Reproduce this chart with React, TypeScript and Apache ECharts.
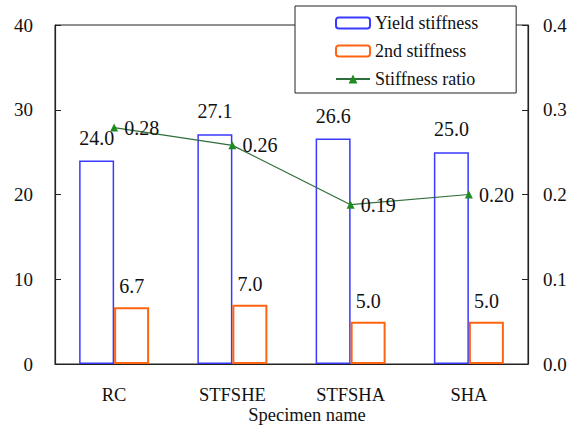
import React, { useEffect, useRef } from "react";
import * as echarts from "echarts";

const categories = ["RC", "STFSHE", "STFSHA", "SHA"];
const yieldStiffness = [24.0, 27.1, 26.6, 25.0];
const secondStiffness = [6.7, 7.0, 5.0, 5.0];
const stiffnessRatio = [0.279, 0.258, 0.188, 0.2];
const leftTicks = [0, 40, 10];
const rightTicks = [0, 0.4, 0.1];

const FONT = "Liberation Serif";

export default function App() {
  const ref = useRef<HTMLDivElement>(null);
  useEffect(() => {
    if (!ref.current) return;
    const chart = echarts.init(ref.current, null, { renderer: "svg" });
    chart.setOption({
      animation: false,
      backgroundColor: "#fff",
      textStyle: { fontFamily: FONT, color: "#111" },
      grid: {
        left: 55,
        right: 49,
        top: 25,
        bottom: 62,
        show: true,
        borderColor: "#222",
        borderWidth: 1,
        containLabel: false,
        outerBoundsMode: "none",
      },
      legend: {
        orient: "vertical",
        left: 295,
        top: 6,
        padding: [8, 38, 5, 40],
        itemGap: 10,
        itemWidth: 34,
        itemHeight: 11,
        borderColor: "#222",
        borderWidth: 1,
        backgroundColor: "#fff",
        selectedMode: false,
        textStyle: { fontFamily: FONT, fontSize: 18, color: "#111" },
        data: ["Yield stiffness", "2nd stiffness", "Stiffness ratio"],
      },
      xAxis: {
        type: "category",
        data: categories,
        boundaryGap: true,
        name: "Specimen name",
        nameLocation: "middle",
        nameGap: 42,
        nameMoveOverlap: false,
        nameTextStyle: {
          fontFamily: FONT,
          fontSize: 18.5,
          lineHeight: 18,
          color: "#111",
          padding: [0, 0, 0, 31],
        },
        axisLine: { lineStyle: { color: "#222", width: 1.2 } },
        axisTick: { inside: true, length: 5, alignWithLabel: false, lineStyle: { color: "#222" } },
        axisLabel: { fontFamily: FONT, fontSize: 18.5, lineHeight: 18, color: "#111", margin: 22 },
      },
      yAxis: [
        {
          type: "value",
          min: leftTicks[0],
          max: leftTicks[1],
          interval: leftTicks[2],
          axisLine: { show: true, lineStyle: { color: "#222", width: 1.2 } },
          axisTick: { show: true, inside: true, length: 6, lineStyle: { color: "#222" } },
          splitLine: { show: false },
          axisLabel: { fontFamily: FONT, fontSize: 19, color: "#111", margin: 22 },
        },
        {
          type: "value",
          min: rightTicks[0],
          max: rightTicks[1],
          interval: rightTicks[2],
          position: "right",
          axisLine: { show: true, lineStyle: { color: "#222", width: 1.2 } },
          axisTick: { show: true, inside: true, length: 6, lineStyle: { color: "#222" } },
          splitLine: { show: false },
          axisLabel: {
            fontFamily: FONT,
            fontSize: 19,
            color: "#111",
            margin: 15,
            formatter: (v: number) => v.toFixed(1),
          },
        },
      ],
      series: [
        {
          name: "Yield stiffness",
          type: "bar",
          data: yieldStiffness,
          barWidth: 35,
          barGap: "0%",
          itemStyle: { color: "rgba(255,255,255,0)", borderColor: "#3a3aff", borderWidth: 1.5 },
          label: {
            show: true,
            position: "top",
            distance: 13,
            fontFamily: FONT,
            fontSize: 20,
            color: "#111",
            formatter: (p: any) => Number(p.value).toFixed(1),
          },
        },
        {
          name: "2nd stiffness",
          type: "bar",
          data: secondStiffness,
          barWidth: 35,
          barGap: "0%",
          itemStyle: { color: "rgba(255,255,255,0)", borderColor: "#ff6410", borderWidth: 2 },
          label: {
            show: true,
            position: "top",
            distance: 11,
            fontFamily: FONT,
            fontSize: 20,
            color: "#111",
            formatter: (p: any) => Number(p.value).toFixed(1),
          },
        },
        {
          name: "Stiffness ratio",
          type: "line",
          yAxisIndex: 1,
          data: stiffnessRatio,
          symbol: "triangle",
          symbolSize: 8,
          lineStyle: { color: "#2f6e3b", width: 1.2 },
          itemStyle: { color: "#1e8c1e" },
          z: 5,
          label: {
            show: true,
            position: "right",
            distance: 6,
            fontFamily: FONT,
            fontSize: 20,
            color: "#111",
            formatter: (p: any) => Number(p.value).toFixed(2),
          },
        },
      ],
    });
    return () => chart.dispose();
  }, []);
  return <div ref={ref} style={{ width: 577, height: 426, position: "absolute", left: 0, top: 0 }} />;
}
